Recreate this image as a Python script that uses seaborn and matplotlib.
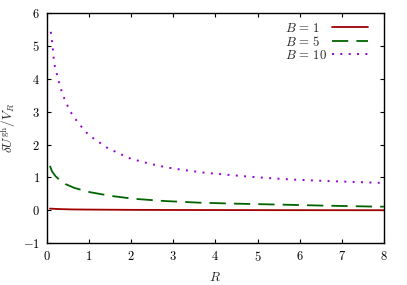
import numpy as np
import pandas as pd
import matplotlib
matplotlib.use("Agg")
import matplotlib.pyplot as plt
import seaborn as sns

# values
r_b1 = [0.07, 0.3, 0.6, 1.0, 2.0, 3.0, 4.0, 5.0, 6.0, 7.0, 8.0]
u_b1 = [0.05, 0.035, 0.025, 0.02, 0.012, 0.008, 0.006, 0.004, 0.003, 0.002, 0.001]

r_b5 = [0.07, 0.12, 0.2, 0.3, 0.45, 0.65, 1.02, 1.5, 2.05, 2.8, 3.63, 4.5, 5.6, 6.6, 7.83, 8.0]
u_b5 = [1.35, 1.18, 1.04, 0.92, 0.79, 0.68, 0.55, 0.44, 0.35, 0.28, 0.23, 0.2, 0.17, 0.14, 0.11, 0.11]

r_b10 = [0.09, 0.13, 0.17, 0.25, 0.33, 0.43, 0.56, 0.74, 0.94, 1.045, 1.42, 1.69, 1.97,
         2.27, 2.57, 2.86, 3.16, 3.46, 3.76, 4.82, 5.73, 6.64, 7.55, 8.0]
u_b10 = [5.43, 5.03, 4.47, 4.06, 3.69, 3.33, 2.99, 2.66, 2.36, 2.24, 1.91, 1.74, 1.58,
         1.47, 1.38, 1.30, 1.24, 1.19, 1.14, 1.02, 0.94, 0.89, 0.85, 0.83]

labels = [r'$B\,=\,1$', r'$B\,=\,5$', r'$B\,=\,10$']

sns.set_style("ticks")
plt.rcParams['font.family'] = ['serif']
plt.rcParams['font.serif'] = ['cmr10', 'DejaVu Serif']
plt.rcParams['mathtext.fontset'] = 'cm'
plt.rcParams['axes.formatter.use_mathtext'] = True
plt.rcParams['font.size'] = 9

fig = plt.figure(figsize=(4.07, 2.85), dpi=100)
ax = fig.add_axes([0.1155, 0.147, 0.8275, 0.807])

sns.lineplot(x=r_b1, y=u_b1, ax=ax, color='#a00000', lw=1.3, label=labels[0])
sns.lineplot(x=r_b5, y=u_b5, ax=ax, color='#006400', lw=1.3, label=labels[1],
             linestyle=(0, (9, 4.5)))
sns.lineplot(x=r_b10, y=u_b10, ax=ax, color='#9400d3', lw=1.4, label=labels[2],
             linestyle=(0, (1, 3.3)))

ax.set_xlim(0, 8)
ax.set_ylim(-1, 6)
ax.set_xticks(range(0, 9))
ax.set_yticks(range(-1, 7))
ax.tick_params(direction='in', top=True, right=True, length=3, width=0.8,
               labelsize=9, colors='black', pad=5)
for s in ax.spines.values():
    s.set_linewidth(1.0)
    s.set_color('black')
ax.set_xlabel('$R$', labelpad=5, fontsize=9.5)
ax.set_ylabel(r'$\delta U^{\mathrm{gh}}/V_R$', fontsize=9.5)
ax.yaxis.set_label_coords(-0.085, 0.5)

leg = ax.legend(loc='upper right', bbox_to_anchor=(0.976, 0.995), frameon=False,
                markerfirst=False, handlelength=2.8, handletextpad=0.4,
                labelspacing=0.0, borderaxespad=0.2, fontsize=9.2)

# left-align the legend texts while keeping the handles in one column
renderer = fig.canvas.get_renderer()
widths = [t.get_window_extent(renderer).width for t in leg.get_texts()]
wmax = max(widths)
px_per_pt = fig.dpi / 72.0
for col in leg._legend_handle_box.get_children():
    for item, w in zip(col.get_children(), widths):
        item.sep = item.sep + (wmax - w) / px_per_pt

fig.savefig('out.png', dpi=100)
print('OK')
